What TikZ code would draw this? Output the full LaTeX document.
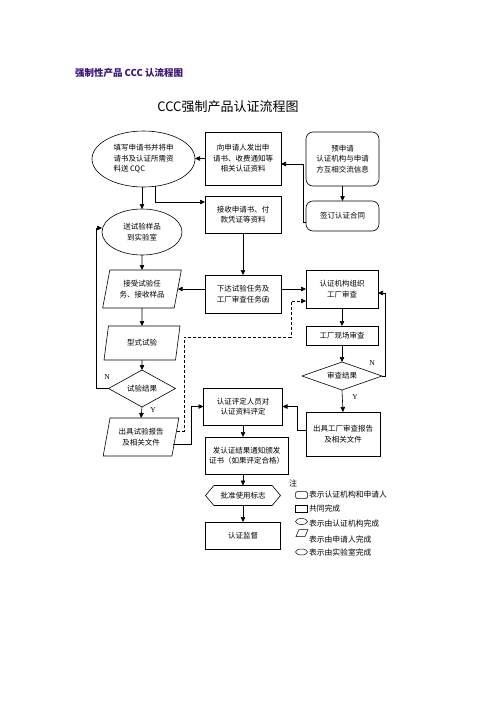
\documentclass[tikz,border=0pt]{standalone}
\usepackage{fontspec}
\setmainfont{Noto Sans CJK SC}
\newfontfamily\latinserif{Liberation Serif}
\usetikzlibrary{shapes.geometric,shapes.symbols,arrows.meta,calc}
\definecolor{titlepurple}{RGB}{60,20,120}
\begin{document}
\begin{tikzpicture}[x=1pt,y=-1pt,
  font=\fontsize{7.5}{10.5}\selectfont,
  every node/.style={inner sep=0pt, outer sep=0pt},
  base/.style={draw, line width=0.6pt, align=center},
  box/.style={base, rectangle},
  rbox/.style={base, rectangle, rounded corners=7pt},
  oval/.style={base, ellipse},
  para/.style={base, trapezium, trapezium left angle=74, trapezium right angle=106, trapezium stretches=true},
  dia/.style={base, diamond, aspect=3},
  hexa/.style={base, signal, signal to=west and east, signal pointer angle=100},
  line/.style={line width=0.6pt},
  arr/.style={line, -{Triangle[length=5pt,width=4.5pt]}},
  lab/.style={font=\latinserif\fontsize{7.5}{8}\selectfont},
  legtext/.style={anchor=west, font=\fontsize{7.8}{9}\selectfont},
  icon/.style={draw, line width=0.5pt, minimum width=12, minimum height=7},
]
\fill[white] (0,0) rectangle (496,702);
\useasboundingbox (0,0) rectangle (496,702);

% titles
\node[anchor=west, font=\bfseries\fontsize{9.5}{11}\selectfont, text=titlepurple] (title) at (75,73) {强制性产品 CCC 认流程图};
\node[font=\fontsize{13}{15}\selectfont] (subtitle) at (228,107) {CCC强制产品认证流程图};

% nodes
\node[oval, align=left, minimum width=103, minimum height=56] (e1) at (143.5,159) {填写申请书并将申\\请书及认证所需资\\料送 CQC};
\node[box, minimum width=76, minimum height=53] (xiang) at (243,158.5) {向申请人发出申\\请书、收费通知等\\相关认证资料};
\node[rbox, minimum width=73, minimum height=54] (yu) at (342.5,159) {预申请\\认证机构与申请\\方互相交流信息};
\node[box, minimum width=76, minimum height=37] (jie) at (243,214.5) {接收申请书、付\\款凭证等资料};
\node[rbox, minimum width=73, minimum height=30] (qd) at (342.5,216) {签订认证合同};
\node[oval, minimum width=80, minimum height=46] (e2) at (142,232) {送试验样品\\到实验室};
\node[para, minimum width=79, minimum height=38] (js) at (142,289) {接受试验任\\务、接收样品};
\node[box, minimum width=76, minimum height=38] (xd) at (243,294) {下达试验任务及\\工厂审查任务函};
\node[box, minimum width=72, minimum height=38] (rz) at (342,289) {认证机构组织\\工厂审查};
\node[para, minimum width=76, minimum height=34] (xs) at (142,343) {型式试验};
\node[box, minimum width=72, minimum height=19] (gc) at (342,335.5) {工厂现场审查};
\node[dia, minimum width=80, minimum height=28] (sc) at (342,376) {审查结果};
\node[dia, minimum width=67, minimum height=37] (sy) at (142,388.5) {试验结果};
\node[box, minimum width=79, minimum height=37] (pd) at (243,406.5) {认证评定人员对\\认证资料评定};
\node[box, minimum width=74, minimum height=44] (cg) at (343,434) {出具工厂审查报告\\及相关文件};
\node[para, minimum width=76, minimum height=38] (cs) at (141,437) {出具试验报告\\及相关文件};
\node[box, minimum width=83, minimum height=37] (fz) at (246.5,455.5) {发认证结果通知颁发\\证书（如果评定合格）};
\node[hexa, minimum width=75, minimum height=20] (pz) at (243,495.5) {批准使用标志};
\node[box, minimum width=75, minimum height=27] (jd) at (243,535.5) {认证监督};

% helper coordinates
\coordinate (d1) at (184,337);
\coordinate (d2) at (291,301);

% connectors
\draw[arr] (xiang.west) -- (xiang.west -| e1.east);
\draw[arr] (e2.north |- e1.south) -- (e2.north);
\draw[arr] (e1.-67) |- ($(jie.west)+(0,-12.5)$);
\draw[arr] ($(qd.west)+(0,6)$) -- ++(-3,0) |- ($(xiang.east)+(0,5.5)$);
\draw[arr] (yu.south) -- (qd.north);
\draw[arr] (jie.south) -- (xd.north);
\draw[arr] (xd.west |- js.east) -- (js.east);
\draw[arr] (xd.east |- rz.west) -- (rz.west);
\draw[arr] (e2.south) -- (js.north);
\draw[arr] (js.south) -- (xs.north);
\draw[arr] (xs.south) -- (sy.north);
\draw[arr] (sy.south) -- (cs.north);
\node[lab] (ylab1) at (153,410) {Y};
\draw[arr] (sy.west) -- ++(-12,0) |- ($(e2.west)+(0,-4)$);
\node[lab] (nlab1) at (107,377) {N};
\draw[arr] ($(cs.east)+(-2,7)$) -| ($(pd.west)+(-12,0)$) -- (pd.west);
\draw[arr, dash pattern=on 3pt off 2pt] ($(cs.east)+(1.7,-6)$) -| (d1) -| (d2) -- (rz.west |- d2);
\draw[arr] (rz.south) -- (gc.north);
\draw[arr] (gc.south) -- (sc.north);
\draw[arr] (sc.east) -- ++(3,0) |- ($(rz.east)+(0,4)$);
\node[lab] (nlab2) at (372,363) {N};
\draw[arr] (sc.south) -- (cg.north);
\node[lab] (ylab2) at (355,397) {Y};
\draw[arr] ($(cg.west)+(0,-4)$) -- ++(-9,0) |- (pd.east);
\draw[arr] (pd.south) -- (pd.south |- fz.north);
\draw[arr] (fz.south -| pz.north) -- (pz.north);
\draw[arr] (pz.south) -- (jd.north);

% legend
\node[anchor=west, font=\fontsize{8}{9}\selectfont] (zhu) at (289,483) {注};
\node[icon, rounded corners=1.5pt] (i1) at (301.5,495) {};
\node[legtext] (t1) at (309,495) {表示认证机构和申请人};
\node[icon] (i2) at (301.5,509) {};
\node[legtext] (t2) at (309,509) {共同完成};
\node[icon, ellipse, minimum height=6] (i3) at (301.5,521.5) {};
\node[legtext] (t3) at (309,523.5) {表示由认证机构完成};
\draw[line width=0.5pt] (296,536.5) -- (299,529.5) -- (308,529.5) -- (305,536.5) -- cycle;
\node[legtext] (t4) at (309,540) {表示由申请人完成};
\node[icon, ellipse, minimum height=6] (i5) at (301.5,552) {};
\node[legtext] (t5) at (309,553) {表示由实验室完成};
\end{tikzpicture}
\end{document}
